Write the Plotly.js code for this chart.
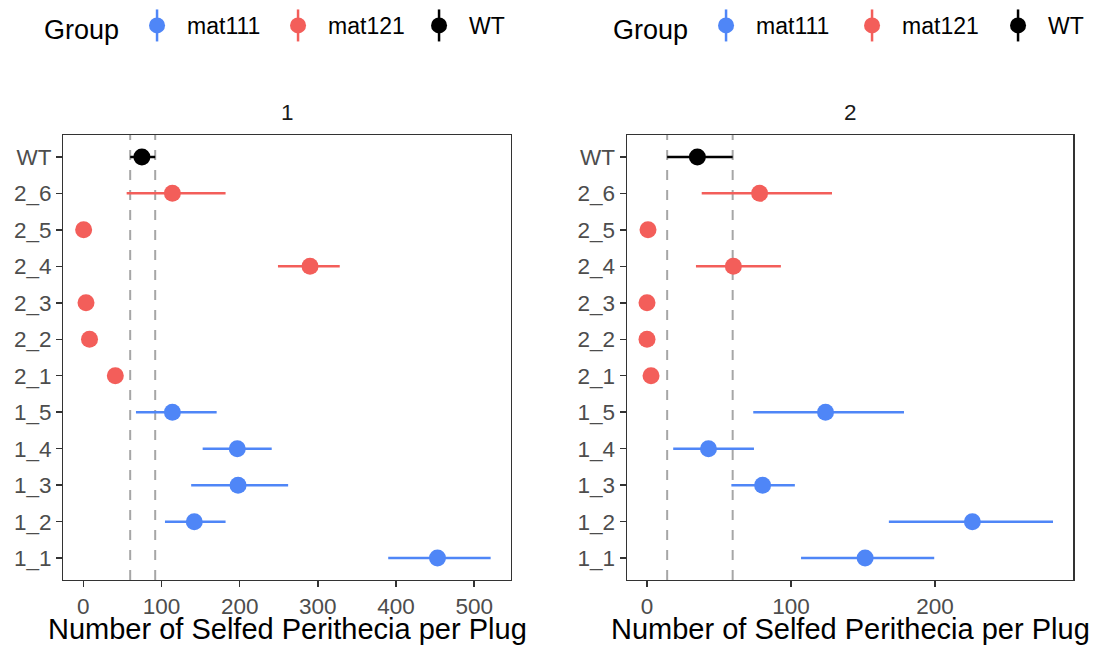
<!DOCTYPE html>
<html>
<head>
<meta charset="utf-8">
<script src="https://cdn.plot.ly/plotly-3.0.1.min.js"></script>
<style>html,body{margin:0;padding:0;background:#fff;}#chart{width:1095px;height:647px;}</style>
</head>
<body>
<div id="chart"></div>
<script>
// Categories (bottom to top)
const categories = ["1_1","1_2","1_3","1_4","1_5","2_1","2_2","2_3","2_4","2_5","2_6","WT"];
const groupOf   = ["mat111","mat111","mat111","mat111","mat111","mat121","mat121","mat121","mat121","mat121","mat121","WT"];
const groups = ["mat111","mat121","WT"];
const facetTitles = ["1","2"];
const axisTitle = "Number of Selfed Perithecia per Plug";

// Facet 1
const mean1 = [453, 142, 198, 197, 114, 41, 8, 3.5, 290, 0.5, 114, 75];
const lo1   = [390, 104.5, 138, 152.7, 67.4, 41, 8, 3.5, 249, 0.5, 55.5, 60];
const hi1   = [521, 182, 262, 241, 170.6, 41, 8, 3.5, 328, 0.5, 182, 92];

// Facet 2
const mean2 = [151.5, 226, 80.3, 42.7, 124, 2.8, 0, 0, 60, 0.7, 78.2, 35];
const lo2   = [107, 168, 58.6, 18.2, 73.8, 2.8, 0, 0, 34, 0.7, 38, 14];
const hi2   = [199.5, 282, 102.7, 74.3, 178.5, 2.8, 0, 0, 93, 0.7, 128.5, 59.5];

const colors = {mat111: "#4F86F7", mat121: "#F35E5A", WT: "#000000"};
const FONT = "Liberation Sans, Arial, Helvetica, sans-serif";

function makeTraces(mean, lo, hi, xa, ya, leg) {
  return groups.map(g => {
    const idx = categories.map((c, i) => i).filter(i => groupOf[i] === g);
    return {
      type: "scatter", mode: "markers", name: g,
      x: idx.map(i => mean[i]),
      y: idx.map(i => categories[i]),
      xaxis: xa, yaxis: ya, legend: leg,
      marker: {color: colors[g], size: 17},
      error_x: {type: "data", symmetric: false,
        array: idx.map(i => hi[i] - mean[i]),
        arrayminus: idx.map(i => mean[i] - lo[i]),
        color: colors[g], thickness: 2.5, width: 0},
      hoverinfo: "x+y"
    };
  });
}

function rng(lo, hi) {
  const mn = Math.min(...lo), mx = Math.max(...hi);
  const e = 0.05 * (mx - mn);
  return [mn - e, mx + e];
}

const traces = [].concat(
  makeTraces(mean1, lo1, hi1, "x", "y", "legend"),
  makeTraces(mean2, lo2, hi2, "x2", "y2", "legend2")
);

const W = 1095, H = 647;
const d1 = [63.3 / W, 511 / W];
const d2 = [626.7 / W, 1073.3 / W];
const yd = [1 - 580 / H, 1 - 135 / H];

function xaxis(domain, range, anchor) {
  return {
    domain: domain, range: range, anchor: anchor,
    dtick: 100, tick0: 0, ticks: "outside", ticklen: 6, tickwidth: 1.5, tickcolor: "#333333",
    tickfont: {family: FONT, size: 22.5, color: "#4D4D4D"},
    showgrid: false, zeroline: false,
    showline: true, linecolor: "#333333", linewidth: 1.2, mirror: true,
    automargin: false
  };
}
function yaxis(domain, anchor) {
  return {
    domain: domain, anchor: anchor, type: "category",
    categoryorder: "array", categoryarray: categories, range: [-0.6, categories.length - 0.4],
    ticks: "outside", ticklen: 6, tickwidth: 1.5, tickcolor: "#333333",
    tickfont: {family: FONT, size: 22.5, color: "#4D4D4D"},
    showgrid: false, zeroline: false,
    showline: true, linecolor: "#333333", linewidth: 1.2, mirror: true,
    automargin: false
  };
}

const wt = categories.indexOf("WT");
const dashLine = {color: "#A6A6A6", width: 2, dash: "10px,10px"};
const shapes = [
  {type: "line", xref: "x", yref: "y domain", x0: lo1[wt], x1: lo1[wt], y0: 0, y1: 1, line: dashLine, layer: "below"},
  {type: "line", xref: "x", yref: "y domain", x0: hi1[wt], x1: hi1[wt], y0: 0, y1: 1, line: dashLine, layer: "below"},
  {type: "line", xref: "x2", yref: "y2 domain", x0: lo2[wt], x1: lo2[wt], y0: 0, y1: 1, line: dashLine, layer: "below"},
  {type: "line", xref: "x2", yref: "y2 domain", x0: hi2[wt], x1: hi2[wt], y0: 0, y1: 1, line: dashLine, layer: "below"}
];

function legend(x, ew) {
  return {
    orientation: "h", x: x, xanchor: "left", y: 1 - 27 / H, yanchor: "middle",
    title: {text: "Group", font: {family: FONT, size: 27, color: "#000"}, side: "left"},
    font: {family: FONT, size: 23, color: "#000"},
    itemwidth: 50, entrywidth: ew,
    bgcolor: "rgba(0,0,0,0)", itemclick: false, itemdoubleclick: false
  };
}

function facetLabel(text, d) {
  return {text: text, xref: "paper", yref: "paper", x: (d[0] + d[1]) / 2, y: 1 - 113 / H,
    xanchor: "center", yanchor: "middle", showarrow: false,
    font: {family: FONT, size: 22.5, color: "#1A1A1A"}};
}
function xTitle(d) {
  return {text: axisTitle, xref: "paper", yref: "paper", x: (d[0] + d[1]) / 2, y: 0,
    xanchor: "center", yanchor: "bottom", showarrow: false,
    font: {family: FONT, size: 29, color: "#000000"}};
}

const layout = {
  width: W, height: H,
  margin: {l: 0, r: 0, t: 0, b: 0, autoexpand: false},
  paper_bgcolor: "#ffffff", plot_bgcolor: "#ffffff",
  showlegend: true,
  xaxis: xaxis(d1, rng(lo1, hi1), "y"),
  yaxis: yaxis(yd, "x"),
  xaxis2: xaxis(d2, rng(lo2, hi2), "y2"),
  yaxis2: yaxis(yd, "x2"),
  legend: legend(42 / W, 76),
  legend2: legend(611 / W, 81),
  shapes: shapes,
  annotations: [facetLabel(facetTitles[0], d1), facetLabel(facetTitles[1], d2), xTitle(d1), xTitle(d2)]
};

Plotly.newPlot("chart", traces, layout, {displayModeBar: false, staticPlot: true}).then(gd => {
  // add a vertical "pointrange" stroke to each legend key, like the ggplot legend
  const NS = "http://www.w3.org/2000/svg";
  gd.querySelectorAll(".legend .traces, .legend2 .traces").forEach(tr => {
    const pts = tr.querySelector(".legendpoints path.scatterpts");
    if (!pts) return;
    const col = pts.style.fill || "#000";
    const ln = document.createElementNS(NS, "path");
    ln.setAttribute("d", "M0,-16V16");
    ln.setAttribute("transform", pts.getAttribute("transform") || "");
    ln.style.stroke = col;
    ln.style.strokeWidth = "2.5px";
    ln.style.fill = "none";
    pts.parentNode.insertBefore(ln, pts);
  });
});
</script>
</body>
</html>
